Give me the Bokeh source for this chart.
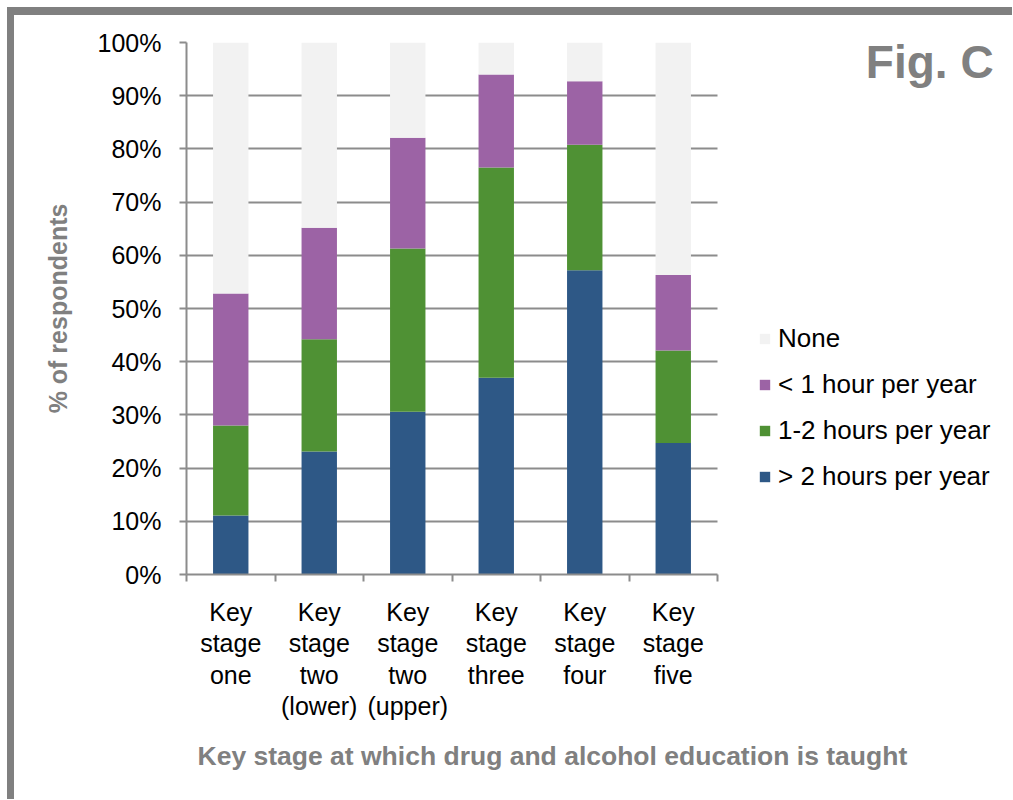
from bokeh.plotting import figure
from bokeh.models import (FixedTicker, NumeralTickFormatter, Legend, LegendItem,
                          Title, Label, ColumnDataSource)
from bokeh.embed import file_html
from bokeh.resources import INLINE

# ---- data ----
stages = ["Key\nstage\none", "Key\nstage\ntwo\n(lower)", "Key\nstage\ntwo\n(upper)",
          "Key\nstage\nthree", "Key\nstage\nfour", "Key\nstage\nfive"]
series_names = ["> 2 hours per year", "1-2 hours per year", "< 1 hour per year", "None"]
over_2h = [0.111, 0.231, 0.306, 0.370, 0.572, 0.247]
h1_2 = [0.169, 0.211, 0.307, 0.395, 0.236, 0.174]
under_1h = [0.248, 0.210, 0.208, 0.175, 0.119, 0.142]
none = [0.472, 0.348, 0.179, 0.060, 0.073, 0.437]
y_ticks = [0.0, 0.1, 0.2, 0.3, 0.4, 0.5, 0.6, 0.7, 0.8, 0.9, 1.0]
colors = ["#2E5886", "#4F9134", "#9C63A5", "#F2F2F2"]

FONT = "Liberation Sans"
GRAY = "#8C8C8C"

n = len(stages)
xpos = list(range(1, n + 1))
source = ColumnDataSource(dict(x=xpos, s0=over_2h, s1=h1_2, s2=under_1h, s3=none))

# plot frame extends to the right so the legend and tag are drawn inside it;
# axis and grid are bounded to the category area
CAT_PX = 531            # pixel width of the category area
FRAME_W = 826
x_end = 0.5 + FRAME_W * n / CAT_PX

p = figure(frame_width=FRAME_W, frame_height=532, x_range=(0.5, x_end), y_range=(0, 1),
           output_backend="svg", toolbar_location=None,
           min_border_left=172, min_border_right=0,
           min_border_top=27, min_border_bottom=225)
p.styles = {"margin": "7px 0px 0px 7px",
            "border-top": "8px solid #808080", "border-left": "7px solid #808080",
            "border-right": "none", "border-bottom": "none", "outline": "none"}
p.outline_line_color = None
p.background_fill_color = "white"
p.border_fill_color = "white"

renderers = p.vbar_stack(["s0", "s1", "s2", "s3"], x="x", width=0.4, source=source,
                         color=colors, line_color=None)

# y axis
yax = p.yaxis[0]
yax.ticker = FixedTicker(ticks=y_ticks, minor_ticks=[])
yax.formatter = NumeralTickFormatter(format="0%")
yax.axis_line_color = GRAY
yax.axis_line_width = 2
yax.major_tick_line_color = GRAY
yax.major_tick_line_width = 2
yax.major_tick_out = 7
yax.major_tick_in = 0
yax.minor_tick_line_color = None
yax.major_label_text_font = FONT
yax.major_label_text_font_size = "25px"
yax.major_label_text_color = "black"
yax.major_label_standoff = 18
yax.axis_label = "% of respondents"
yax.axis_label_text_font = FONT
yax.axis_label_text_font_size = "25px"
yax.axis_label_text_font_style = "bold"
yax.axis_label_text_color = "#808080"
yax.axis_label_standoff = 23

# x axis: labels at bar centres, ticks at category boundaries
xax = p.xaxis[0]
xax.bounds = (0.5, n + 0.5)
xax.ticker = FixedTicker(ticks=xpos, minor_ticks=[i + 0.5 for i in range(0, n + 1)])
xax.major_label_overrides = {xv: lab for xv, lab in zip(xpos, stages)}
xax.axis_line_color = GRAY
xax.axis_line_width = 2
xax.major_tick_line_color = None
xax.minor_tick_line_color = GRAY
xax.minor_tick_line_width = 2
xax.minor_tick_out = 7
xax.minor_tick_in = 0
xax.major_label_text_font = FONT
xax.major_label_text_font_size = "25px"
xax.major_label_text_color = "black"
xax.major_label_standoff = 16
xax.major_label_text_line_height = 1.13

p.xgrid.grid_line_color = None
p.ygrid.grid_line_color = GRAY
p.ygrid.grid_line_width = 2
p.ygrid.cross_bounds = (0.5, n + 0.5)

# x-axis title
xt = Title(text="Key stage at which drug and alcohol education is taught",
           align="left", offset=11, text_font=FONT, text_font_size="26.5px",
           text_font_style="bold", text_color="#808080", standoff=30)
p.add_layout(xt, "below")

# legend (top entry = top of stack), placed right of the category area
items = [LegendItem(label=series_names[i], renderers=[renderers[i]]) for i in (3, 2, 1, 0)]
legend = Legend(items=items, location=(572, 82), orientation="vertical",
                border_line_color=None, background_fill_alpha=0,
                padding=0, margin=0, spacing=15, glyph_width=13, glyph_height=13,
                label_height=30, label_standoff=7,
                label_text_font=FONT, label_text_font_size="26px",
                label_text_color="black")
p.add_layout(legend)

# figure tag
fig_label = Label(x=9.62, y=0.963, text="Fig. C", text_align="right",
                  text_baseline="alphabetic", text_font=FONT, text_font_size="46px",
                  text_font_style="bold", text_color="#808080")
p.add_layout(fig_label)

open("out.html", "w").write(file_html(p, INLINE))
